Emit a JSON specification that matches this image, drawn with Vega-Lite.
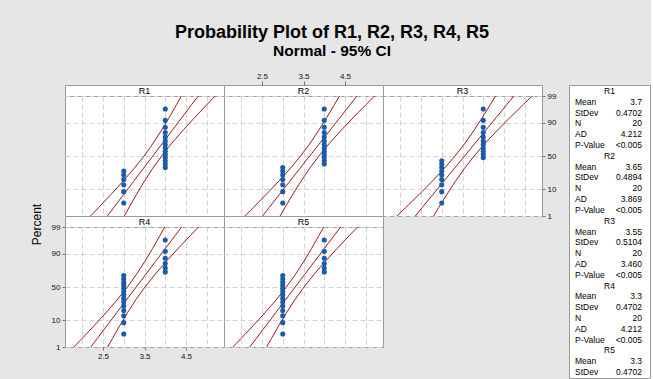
{
"$schema":"https://vega.github.io/schema/vega-lite/v6.json",
"background":"#e6e6e6",
"padding":{"left":29,"top":24,"right":0,"bottom":0},
"title":{"text":"Probability Plot of R1, R2, R3, R4, R5","subtitle":"Normal - 95% CI","anchor":"middle","dx":-8,"fontSize":18,"fontWeight":"bold","color":"black","subtitleFontSize":15.5,"subtitleFontWeight":"bold","subtitleColor":"black","subtitlePadding":2,"offset":12,"font":"Liberation Sans","subtitleFont":"Liberation Sans"},
"datasets":{
"pts":[
{"s":"R1","v":3,"z":-1.821},{"s":"R1","v":3,"z":-1.383},{"s":"R1","v":3,"z":-1.115},{"s":"R1","v":3,"z":-0.91},{"s":"R1","v":3,"z":-0.737},{"s":"R1","v":3,"z":-0.585},{"s":"R1","v":4,"z":-0.445},{"s":"R1","v":4,"z":-0.312},{"s":"R1","v":4,"z":-0.185},{"s":"R1","v":4,"z":-0.0615},{"s":"R1","v":4,"z":0.0615},{"s":"R1","v":4,"z":0.185},{"s":"R1","v":4,"z":0.312},{"s":"R1","v":4,"z":0.445},{"s":"R1","v":4,"z":0.585},{"s":"R1","v":4,"z":0.737},{"s":"R1","v":4,"z":0.91},{"s":"R1","v":4,"z":1.115},{"s":"R1","v":4,"z":1.383},{"s":"R1","v":4,"z":1.821},
{"s":"R2","v":3,"z":-1.821},{"s":"R2","v":3,"z":-1.383},{"s":"R2","v":3,"z":-1.115},{"s":"R2","v":3,"z":-0.91},{"s":"R2","v":3,"z":-0.737},{"s":"R2","v":3,"z":-0.585},{"s":"R2","v":3,"z":-0.445},{"s":"R2","v":4,"z":-0.312},{"s":"R2","v":4,"z":-0.185},{"s":"R2","v":4,"z":-0.0615},{"s":"R2","v":4,"z":0.0615},{"s":"R2","v":4,"z":0.185},{"s":"R2","v":4,"z":0.312},{"s":"R2","v":4,"z":0.445},{"s":"R2","v":4,"z":0.585},{"s":"R2","v":4,"z":0.737},{"s":"R2","v":4,"z":0.91},{"s":"R2","v":4,"z":1.115},{"s":"R2","v":4,"z":1.383},{"s":"R2","v":4,"z":1.821},
{"s":"R3","v":3,"z":-1.821},{"s":"R3","v":3,"z":-1.383},{"s":"R3","v":3,"z":-1.115},{"s":"R3","v":3,"z":-0.91},{"s":"R3","v":3,"z":-0.737},{"s":"R3","v":3,"z":-0.585},{"s":"R3","v":3,"z":-0.445},{"s":"R3","v":3,"z":-0.312},{"s":"R3","v":3,"z":-0.185},{"s":"R3","v":4,"z":-0.0615},{"s":"R3","v":4,"z":0.0615},{"s":"R3","v":4,"z":0.185},{"s":"R3","v":4,"z":0.312},{"s":"R3","v":4,"z":0.445},{"s":"R3","v":4,"z":0.585},{"s":"R3","v":4,"z":0.737},{"s":"R3","v":4,"z":0.91},{"s":"R3","v":4,"z":1.115},{"s":"R3","v":4,"z":1.383},{"s":"R3","v":4,"z":1.821},
{"s":"R4","v":3,"z":-1.821},{"s":"R4","v":3,"z":-1.383},{"s":"R4","v":3,"z":-1.115},{"s":"R4","v":3,"z":-0.91},{"s":"R4","v":3,"z":-0.737},{"s":"R4","v":3,"z":-0.585},{"s":"R4","v":3,"z":-0.445},{"s":"R4","v":3,"z":-0.312},{"s":"R4","v":3,"z":-0.185},{"s":"R4","v":3,"z":-0.0615},{"s":"R4","v":3,"z":0.0615},{"s":"R4","v":3,"z":0.185},{"s":"R4","v":3,"z":0.312},{"s":"R4","v":3,"z":0.445},{"s":"R4","v":4,"z":0.585},{"s":"R4","v":4,"z":0.737},{"s":"R4","v":4,"z":0.91},{"s":"R4","v":4,"z":1.115},{"s":"R4","v":4,"z":1.383},{"s":"R4","v":4,"z":1.821},
{"s":"R5","v":3,"z":-1.821},{"s":"R5","v":3,"z":-1.383},{"s":"R5","v":3,"z":-1.115},{"s":"R5","v":3,"z":-0.91},{"s":"R5","v":3,"z":-0.737},{"s":"R5","v":3,"z":-0.585},{"s":"R5","v":3,"z":-0.445},{"s":"R5","v":3,"z":-0.312},{"s":"R5","v":3,"z":-0.185},{"s":"R5","v":3,"z":-0.0615},{"s":"R5","v":3,"z":0.0615},{"s":"R5","v":3,"z":0.185},{"s":"R5","v":3,"z":0.312},{"s":"R5","v":3,"z":0.445},{"s":"R5","v":4,"z":0.585},{"s":"R5","v":4,"z":0.737},{"s":"R5","v":4,"z":0.91},{"s":"R5","v":4,"z":1.115},{"s":"R5","v":4,"z":1.383},{"s":"R5","v":4,"z":1.821}
],
"fit":[
{"s":"R1","z":-2.326,"lo":2.199,"mid":2.606,"hi":3.013},{"s":"R1","z":-2,"lo":2.393,"mid":2.76,"hi":3.126},{"s":"R1","z":-1.5,"lo":2.687,"mid":2.995,"hi":3.303},{"s":"R1","z":-1,"lo":2.971,"mid":3.23,"hi":3.489},{"s":"R1","z":-0.5,"lo":3.241,"mid":3.465,"hi":3.689},{"s":"R1","z":0,"lo":3.489,"mid":3.7,"hi":3.912},{"s":"R1","z":0.5,"lo":3.711,"mid":3.935,"hi":4.159},{"s":"R1","z":1,"lo":3.911,"mid":4.17,"hi":4.429},{"s":"R1","z":1.5,"lo":4.097,"mid":4.405,"hi":4.714},{"s":"R1","z":2,"lo":4.274,"mid":4.64,"hi":5.007},{"s":"R1","z":2.326,"lo":4.387,"mid":4.794,"hi":5.201},
{"s":"R2","z":-2.326,"lo":2.088,"mid":2.512,"hi":2.935},{"s":"R2","z":-2,"lo":2.29,"mid":2.671,"hi":3.052},{"s":"R2","z":-1.5,"lo":2.595,"mid":2.916,"hi":3.237},{"s":"R2","z":-1,"lo":2.891,"mid":3.161,"hi":3.43},{"s":"R2","z":-0.5,"lo":3.172,"mid":3.405,"hi":3.639},{"s":"R2","z":0,"lo":3.43,"mid":3.65,"hi":3.87},{"s":"R2","z":0.5,"lo":3.661,"mid":3.895,"hi":4.128},{"s":"R2","z":1,"lo":3.87,"mid":4.139,"hi":4.409},{"s":"R2","z":1.5,"lo":4.063,"mid":4.384,"hi":4.705},{"s":"R2","z":2,"lo":4.248,"mid":4.629,"hi":5.01},{"s":"R2","z":2.326,"lo":4.365,"mid":4.788,"hi":5.212},
{"s":"R3","z":-2.326,"lo":1.921,"mid":2.363,"hi":2.805},{"s":"R3","z":-2,"lo":2.132,"mid":2.529,"hi":2.927},{"s":"R3","z":-1.5,"lo":2.45,"mid":2.784,"hi":3.119},{"s":"R3","z":-1,"lo":2.759,"mid":3.04,"hi":3.321},{"s":"R3","z":-0.5,"lo":3.051,"mid":3.295,"hi":3.538},{"s":"R3","z":0,"lo":3.321,"mid":3.55,"hi":3.78},{"s":"R3","z":0.5,"lo":3.562,"mid":3.805,"hi":4.049},{"s":"R3","z":1,"lo":3.779,"mid":4.06,"hi":4.342},{"s":"R3","z":1.5,"lo":3.981,"mid":4.316,"hi":4.65},{"s":"R3","z":2,"lo":4.173,"mid":4.571,"hi":4.968},{"s":"R3","z":2.326,"lo":4.295,"mid":4.737,"hi":5.179},
{"s":"R4","z":-2.326,"lo":1.799,"mid":2.206,"hi":2.613},{"s":"R4","z":-2,"lo":1.993,"mid":2.36,"hi":2.726},{"s":"R4","z":-1.5,"lo":2.287,"mid":2.595,"hi":2.903},{"s":"R4","z":-1,"lo":2.571,"mid":2.83,"hi":3.089},{"s":"R4","z":-0.5,"lo":2.841,"mid":3.065,"hi":3.289},{"s":"R4","z":0,"lo":3.089,"mid":3.3,"hi":3.512},{"s":"R4","z":0.5,"lo":3.311,"mid":3.535,"hi":3.759},{"s":"R4","z":1,"lo":3.511,"mid":3.77,"hi":4.029},{"s":"R4","z":1.5,"lo":3.697,"mid":4.005,"hi":4.314},{"s":"R4","z":2,"lo":3.874,"mid":4.24,"hi":4.607},{"s":"R4","z":2.326,"lo":3.987,"mid":4.394,"hi":4.801},
{"s":"R5","z":-2.326,"lo":1.799,"mid":2.206,"hi":2.613},{"s":"R5","z":-2,"lo":1.993,"mid":2.36,"hi":2.726},{"s":"R5","z":-1.5,"lo":2.287,"mid":2.595,"hi":2.903},{"s":"R5","z":-1,"lo":2.571,"mid":2.83,"hi":3.089},{"s":"R5","z":-0.5,"lo":2.841,"mid":3.065,"hi":3.289},{"s":"R5","z":0,"lo":3.089,"mid":3.3,"hi":3.512},{"s":"R5","z":0.5,"lo":3.311,"mid":3.535,"hi":3.759},{"s":"R5","z":1,"lo":3.511,"mid":3.77,"hi":4.029},{"s":"R5","z":1.5,"lo":3.697,"mid":4.005,"hi":4.314},{"s":"R5","z":2,"lo":3.874,"mid":4.24,"hi":4.607},{"s":"R5","z":2.326,"lo":3.987,"mid":4.394,"hi":4.801}
],
"stats":[
{"line":1,"kind":"h","label":"R1","value":""},{"line":2,"kind":"r","label":"Mean","value":"3.7"},{"line":3,"kind":"r","label":"StDev","value":"0.4702"},{"line":4,"kind":"r","label":"N","value":"20"},{"line":5,"kind":"r","label":"AD","value":"4.212"},{"line":6,"kind":"r","label":"P-Value","value":"<0.005"},
{"line":7,"kind":"h","label":"R2","value":""},{"line":8,"kind":"r","label":"Mean","value":"3.65"},{"line":9,"kind":"r","label":"StDev","value":"0.4894"},{"line":10,"kind":"r","label":"N","value":"20"},{"line":11,"kind":"r","label":"AD","value":"3.869"},{"line":12,"kind":"r","label":"P-Value","value":"<0.005"},
{"line":13,"kind":"h","label":"R3","value":""},{"line":14,"kind":"r","label":"Mean","value":"3.55"},{"line":15,"kind":"r","label":"StDev","value":"0.5104"},{"line":16,"kind":"r","label":"N","value":"20"},{"line":17,"kind":"r","label":"AD","value":"3.460"},{"line":18,"kind":"r","label":"P-Value","value":"<0.005"},
{"line":19,"kind":"h","label":"R4","value":""},{"line":20,"kind":"r","label":"Mean","value":"3.3"},{"line":21,"kind":"r","label":"StDev","value":"0.4702"},{"line":22,"kind":"r","label":"N","value":"20"},{"line":23,"kind":"r","label":"AD","value":"4.212"},{"line":24,"kind":"r","label":"P-Value","value":"<0.005"},
{"line":25,"kind":"h","label":"R5","value":""},{"line":26,"kind":"r","label":"Mean","value":"3.3"},{"line":27,"kind":"r","label":"StDev","value":"0.4702"}
]
},
"hconcat":[
{"concat":[
{"width":159,"height":11,"data":{"values":[{"n":"R1"}]},"mark":{"type":"text","fontSize":9,"baseline":"middle"},"encoding":{"text":{"field":"n"},"x":{"datum":3.5,"type":"quantitative","scale":{"domain":[1.585,5.415],"nice":false,"zero":false},"axis":null}}},
{"width":159,"height":11,"data":{"values":[{"n":"R2"}]},"mark":{"type":"text","fontSize":9,"baseline":"middle"},"encoding":{"text":{"field":"n"},"x":{"datum":3.5,"type":"quantitative","scale":{"domain":[1.585,5.415],"nice":false,"zero":false},"axis":{"orient":"top","values":[2.5,3.5,4.5],"format":".1f","grid":false,"ticks":true,"tickSize":4,"labelPadding":1,"title":null}}}},
{"width":159,"height":11,"data":{"values":[{"n":"R3"}]},"mark":{"type":"text","fontSize":9,"baseline":"middle"},"encoding":{"text":{"field":"n"},"x":{"datum":3.5,"type":"quantitative","scale":{"domain":[1.585,5.415],"nice":false,"zero":false},"axis":null}}},
{"width":159,"height":120,
"encoding":{"x":{"field":"v","type":"quantitative","scale":{"domain":[1.585,5.415],"nice":false,"zero":false},"axis":{"values":[2,2.5,3,3.5,4,4.5,5],"labels":false,"ticks":false,"title":null,"grid":true}},
"y":{"field":"z","type":"quantitative","scale":{"domain":[-2.326,2.326],"nice":false,"zero":false},"axis":{"values":[-2.326,-1.2816,0,1.2816,2.326],"labels":false,"ticks":false,"title":null,"grid":true}}},
"layer":[
{"data":{"name":"fit"},"transform":[{"filter":"datum.s==='R1'"},{"fold":["lo","mid","hi"],"as":["band","v"]}],"mark":{"type":"line","color":"#a01c1c","strokeWidth":1,"clip":true},"encoding":{"detail":{"field":"band"},"order":{"field":"z","type":"quantitative"}}},
{"data":{"name":"pts"},"transform":[{"filter":"datum.s==='R1'"}],"mark":{"type":"circle","size":26,"color":"#1a5aa6","opacity":1}}
]},
{"width":159,"height":120,
"encoding":{"x":{"field":"v","type":"quantitative","scale":{"domain":[1.585,5.415],"nice":false,"zero":false},"axis":{"values":[2,2.5,3,3.5,4,4.5,5],"labels":false,"ticks":false,"title":null,"grid":true}},
"y":{"field":"z","type":"quantitative","scale":{"domain":[-2.326,2.326],"nice":false,"zero":false},"axis":{"values":[-2.326,-1.2816,0,1.2816,2.326],"labels":false,"ticks":false,"title":null,"grid":true}}},
"layer":[
{"data":{"name":"fit"},"transform":[{"filter":"datum.s==='R2'"},{"fold":["lo","mid","hi"],"as":["band","v"]}],"mark":{"type":"line","color":"#a01c1c","strokeWidth":1,"clip":true},"encoding":{"detail":{"field":"band"},"order":{"field":"z","type":"quantitative"}}},
{"data":{"name":"pts"},"transform":[{"filter":"datum.s==='R2'"}],"mark":{"type":"circle","size":26,"color":"#1a5aa6","opacity":1}}
]},
{"width":159,"height":120,
"encoding":{"x":{"field":"v","type":"quantitative","scale":{"domain":[1.585,5.415],"nice":false,"zero":false},"axis":{"values":[2,2.5,3,3.5,4,4.5,5],"labels":false,"ticks":false,"title":null,"grid":true}},
"y":{"field":"z","type":"quantitative","scale":{"domain":[-2.326,2.326],"nice":false,"zero":false},"axis":{"orient":"right","values":[-2.326,-1.2816,0,1.2816,2.326],"labelExpr":"datum.value < -2 ? '1' : datum.value < -1 ? '10' : datum.value < 1 ? '50' : datum.value < 2 ? '90' : '99'","ticks":true,"tickSize":3,"labelPadding":2,"title":null,"grid":true}}},
"layer":[
{"data":{"name":"fit"},"transform":[{"filter":"datum.s==='R3'"},{"fold":["lo","mid","hi"],"as":["band","v"]}],"mark":{"type":"line","color":"#a01c1c","strokeWidth":1,"clip":true},"encoding":{"detail":{"field":"band"},"order":{"field":"z","type":"quantitative"}}},
{"data":{"name":"pts"},"transform":[{"filter":"datum.s==='R3'"}],"mark":{"type":"circle","size":26,"color":"#1a5aa6","opacity":1}}
]},
{"width":159,"height":11,"data":{"values":[{"n":"R4"}]},"mark":{"type":"text","fontSize":9,"baseline":"middle"},"encoding":{"text":{"field":"n"},"x":{"datum":3.5,"type":"quantitative","scale":{"domain":[1.585,5.415],"nice":false,"zero":false},"axis":null}}},
{"width":159,"height":11,"data":{"values":[{"n":"R5"}]},"mark":{"type":"text","fontSize":9,"baseline":"middle"},"encoding":{"text":{"field":"n"},"x":{"datum":3.5,"type":"quantitative","scale":{"domain":[1.585,5.415],"nice":false,"zero":false},"axis":null}}},
{"width":159,"height":11,"data":{"values":[]},"mark":"circle","view":{"stroke":null,"fill":null}},
{"width":159,"height":120,
"encoding":{"x":{"field":"v","type":"quantitative","scale":{"domain":[1.585,5.415],"nice":false,"zero":false},"axis":{"values":[2,2.5,3,3.5,4,4.5,5],"labelExpr":"(datum.value*2)%2==1 ? datum.label : ''","tickOpacity":{"condition":{"test":"(datum.value*2)%2==1","value":1},"value":0},"ticks":true,"tickSize":3,"labelPadding":2,"title":null,"grid":true}},
"y":{"field":"z","type":"quantitative","scale":{"domain":[-2.326,2.326],"nice":false,"zero":false},"axis":{"values":[-2.326,-1.2816,0,1.2816,2.326],"labelExpr":"datum.value < -2 ? '1' : datum.value < -1 ? '10' : datum.value < 1 ? '50' : datum.value < 2 ? '90' : '99'","ticks":true,"tickSize":3,"labelPadding":2,"title":"Percent","titleFontSize":12,"titleFontWeight":"normal","titleColor":"black","titleX":-29,"titleY":-3,"titleAngle":270,"titleAlign":"center","titleBaseline":"middle","grid":true}}},
"layer":[
{"data":{"name":"fit"},"transform":[{"filter":"datum.s==='R4'"},{"fold":["lo","mid","hi"],"as":["band","v"]}],"mark":{"type":"line","color":"#a01c1c","strokeWidth":1,"clip":true},"encoding":{"detail":{"field":"band"},"order":{"field":"z","type":"quantitative"}}},
{"data":{"name":"pts"},"transform":[{"filter":"datum.s==='R4'"}],"mark":{"type":"circle","size":26,"color":"#1a5aa6","opacity":1}}
]},
{"width":159,"height":120,
"encoding":{"x":{"field":"v","type":"quantitative","scale":{"domain":[1.585,5.415],"nice":false,"zero":false},"axis":{"values":[2,2.5,3,3.5,4,4.5,5],"labels":false,"ticks":false,"title":null,"grid":true}},
"y":{"field":"z","type":"quantitative","scale":{"domain":[-2.326,2.326],"nice":false,"zero":false},"axis":{"values":[-2.326,-1.2816,0,1.2816,2.326],"labels":false,"ticks":false,"title":null,"grid":true}}},
"layer":[
{"data":{"name":"fit"},"transform":[{"filter":"datum.s==='R5'"},{"fold":["lo","mid","hi"],"as":["band","v"]}],"mark":{"type":"line","color":"#a01c1c","strokeWidth":1,"clip":true},"encoding":{"detail":{"field":"band"},"order":{"field":"z","type":"quantitative"}}},
{"data":{"name":"pts"},"transform":[{"filter":"datum.s==='R5'"}],"mark":{"type":"circle","size":26,"color":"#1a5aa6","opacity":1}}
]}
],"columns":3,"spacing":0,"bounds":"flush","align":"each"},
{"width":81,"height":293,"data":{"name":"stats"},
"encoding":{"y":{"field":"line","type":"ordinal","scale":{"type":"point","padding":0.55},"axis":null}},
"layer":[
{"transform":[{"filter":"datum.kind==='h'"}],"mark":{"type":"text","fontSize":8.5,"align":"center","baseline":"middle"},"encoding":{"text":{"field":"label"},"x":{"datum":0.5,"type":"quantitative","scale":{"domain":[0,1]},"axis":null}}},
{"transform":[{"filter":"datum.kind==='r'"}],"mark":{"type":"text","fontSize":8.5,"align":"left","baseline":"middle","dx":6},"encoding":{"text":{"field":"label"},"x":{"datum":0,"type":"quantitative","scale":{"domain":[0,1]},"axis":null}}},
{"transform":[{"filter":"datum.kind==='r'"}],"mark":{"type":"text","fontSize":8.5,"align":"right","baseline":"middle","dx":-8},"encoding":{"text":{"field":"value"},"x":{"datum":1,"type":"quantitative","scale":{"domain":[0,1]},"axis":null}}}
]}
],
"spacing":11,
"config":{
"font":"Liberation Sans",
"view":{"stroke":"#9a9a9a","fill":"white","strokeWidth":1},
"axis":{"gridColor":"#d2d2d2","gridDash":[5,3],"gridWidth":1,"labelFontSize":8,"labelColor":"#111111","tickColor":"#777777","domain":false,"labelFlush":false,"labelOverlap":false,"labelFont":"Liberation Sans","titleFont":"Liberation Sans"},
"text":{"font":"Liberation Sans","color":"black"}
}
}
